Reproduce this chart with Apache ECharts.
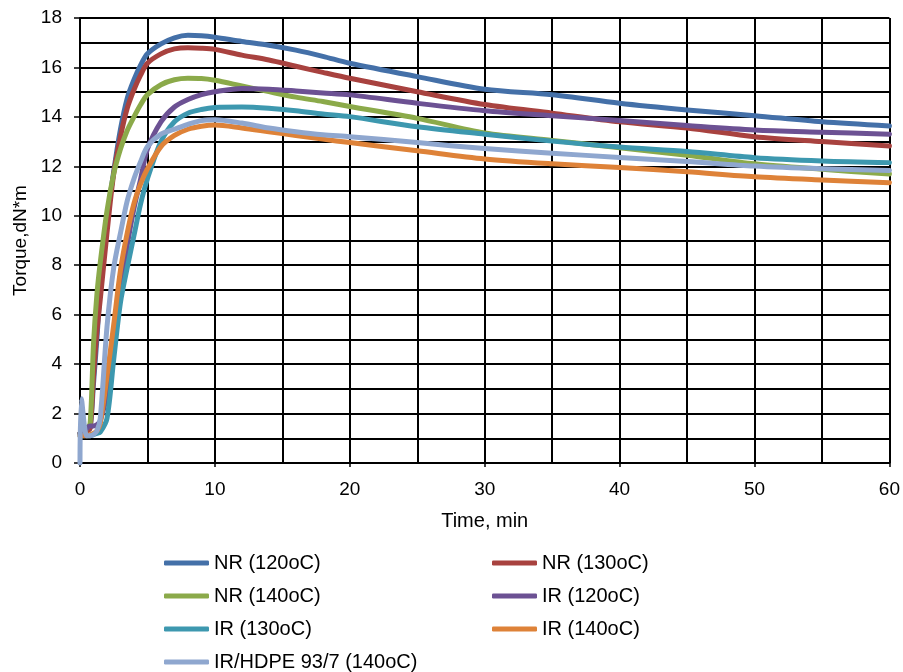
<!DOCTYPE html>
<html>
<head>
<meta charset="utf-8">
<script src="https://cdn.jsdelivr.net/npm/echarts@6/dist/echarts.min.js"></script>
<style>
html,body{margin:0;padding:0;background:#fff;}
#chart{width:903px;height:672px;}
</style>
</head>
<body>
<div id="chart"></div>
<script>
// Time (min)
var timeMin = [0, 0.1, 0.5, 0.75, 1, 1.25, 1.5, 2, 2.5, 3, 3.5, 4, 4.5, 5, 6, 7, 8, 9, 10, 12, 14, 16, 18, 20, 25, 30, 35, 40, 45, 50, 55, 60];

var seriesNames = ['NR (120oC)', 'NR (130oC)', 'NR (140oC)', 'IR (120oC)', 'IR (130oC)', 'IR (140oC)', 'IR/HDPE 93/7 (140oC)'];

var nr120 = [1.2, 1.2, 1.3, 1.4, 3.2, 5.0, 7.0, 9.8, 11.8, 13.5, 14.75, 15.5, 16.1, 16.55, 16.95, 17.2, 17.3, 17.28, 17.22, 17.05, 16.9, 16.7, 16.45, 16.17, 15.63, 15.12, 14.9, 14.55, 14.28, 14.05, 13.8, 13.63];
var nr130 = [1.2, 1.2, 1.3, 1.4, 3.5, 5.3, 6.6, 9.3, 11.7, 13.2, 14.35, 15.1, 15.7, 16.17, 16.55, 16.75, 16.8, 16.78, 16.73, 16.5, 16.3, 16.05, 15.8, 15.56, 15.02, 14.5, 14.15, 13.8, 13.55, 13.2, 13.0, 12.82];
var nr140 = [1.2, 1.2, 1.4, 1.6, 4.8, 6.8, 8.1, 10.2, 11.7, 12.7, 13.45, 14.0, 14.5, 14.9, 15.3, 15.5, 15.56, 15.55, 15.48, 15.25, 15.02, 14.8, 14.62, 14.42, 13.94, 13.35, 13.05, 12.75, 12.45, 12.1, 11.88, 11.69];
var ir120 = [1.2, 1.2, 1.4, 1.5, 1.5, 1.55, 1.7, 2.8, 4.8, 7.0, 8.8, 10.3, 11.5, 12.7, 13.8, 14.4, 14.7, 14.9, 15.02, 15.15, 15.12, 15.05, 14.97, 14.89, 14.55, 14.25, 14.05, 13.85, 13.65, 13.47, 13.38, 13.3];
var ir130 = [1.1, 1.1, 1.1, 1.1, 1.15, 1.2, 1.25, 1.8, 4.2, 6.5, 7.9, 9.2, 10.5, 11.5, 13.0, 13.8, 14.15, 14.3, 14.38, 14.4, 14.35, 14.25, 14.12, 14.01, 13.6, 13.3, 13.02, 12.78, 12.6, 12.35, 12.22, 12.15];
var ir140 = [1.1, 1.1, 1.1, 1.15, 1.2, 1.3, 1.6, 3.5, 5.6, 7.8, 9.3, 10.5, 11.3, 11.9, 12.8, 13.25, 13.5, 13.62, 13.67, 13.55, 13.4, 13.25, 13.1, 12.96, 12.63, 12.3, 12.1, 11.95, 11.78, 11.58, 11.45, 11.34];
var irHdpe = [0, 2.6, 1.1, 1.1, 1.15, 1.3, 1.8, 5.5, 7.9, 9.3, 10.6, 11.5, 12.2, 12.8, 13.3, 13.5, 13.7, 13.85, 13.88, 13.75, 13.55, 13.4, 13.28, 13.2, 12.96, 12.72, 12.53, 12.36, 12.2, 12.01, 11.9, 11.83];

var seriesValues = [nr120, nr130, nr140, ir120, ir130, ir140, irHdpe];
var colors = ['#4470A8', '#A8423F', '#8BAA4A', '#6C5193', '#3D98AF', '#DE8238', '#8FA7CF'];

var xTicks = {min: 0, max: 60, step: 10};
var yTicks = {min: 0, max: 18, step: 2};

function pairs(vals) {
  return timeMin.map(function (t, i) { return [t, vals[i]]; });
}

var series = seriesNames.map(function (name, i) {
  return {
    name: name,
    type: 'line',
    data: pairs(seriesValues[i]),
    showSymbol: false,
    symbol: 'none',
    smooth: 0.3,
    lineStyle: {color: colors[i], width: 5, cap: 'round', join: 'round'},
    itemStyle: {color: colors[i]},
    z: 2 + i
  };
});

var font = 'Liberation Sans, Arial, sans-serif';
var legendCommon = {
  orient: 'vertical',
  icon: 'roundRect',
  itemWidth: 45,
  itemHeight: 5,
  itemGap: 13,
  padding: 0,
  height: 125,
  textStyle: {fontFamily: font, fontSize: 20, color: '#000', lineHeight: 20},
  top: 553
};

var chart = echarts.init(document.getElementById('chart'), null, {renderer: 'canvas'});
chart.setOption({
  animation: false,
  backgroundColor: '#fff',
  color: colors,
  grid: {left: 80, right: 13, top: 18, bottom: 209, containLabel: false},
  legend: [
    Object.assign({}, legendCommon, {left: 164, data: [seriesNames[0], seriesNames[2], seriesNames[4], seriesNames[6]]}),
    Object.assign({}, legendCommon, {left: 492, data: [seriesNames[1], seriesNames[3], seriesNames[5]]})
  ],
  xAxis: {
    type: 'value',
    min: xTicks.min, max: xTicks.max, interval: xTicks.step,
    name: 'Time, min',
    nameLocation: 'middle',
    nameGap: 48,
    nameTextStyle: {fontFamily: font, fontSize: 20, color: '#000'},
    axisLine: {show: true, onZero: false, lineStyle: {color: '#000', width: 2}},
    axisTick: {show: true, length: 4, lineStyle: {color: '#000', width: 1.5}},
    minorTick: {show: false, splitNumber: 2},
    axisLabel: {fontFamily: font, fontSize: 19, color: '#000', margin: 17},
    splitLine: {show: true, lineStyle: {color: '#000', width: 2}},
    minorSplitLine: {show: true, lineStyle: {color: '#000', width: 2}}
  },
  yAxis: {
    type: 'value',
    min: yTicks.min, max: yTicks.max, interval: yTicks.step,
    name: 'Torque,dN*m',
    nameLocation: 'middle',
    nameGap: 49,
    nameTextStyle: {fontFamily: font, fontSize: 19, color: '#000'},
    axisLine: {show: true, onZero: false, lineStyle: {color: '#000', width: 2}},
    axisTick: {show: true, length: 6, lineStyle: {color: '#000', width: 1.5}},
    minorTick: {show: false, splitNumber: 2},
    axisLabel: {fontFamily: font, fontSize: 19, color: '#000', margin: 18},
    splitLine: {show: true, lineStyle: {color: '#000', width: 2}},
    minorSplitLine: {show: true, lineStyle: {color: '#000', width: 2}}
  },
  series: series
});
</script>
</body>
</html>
